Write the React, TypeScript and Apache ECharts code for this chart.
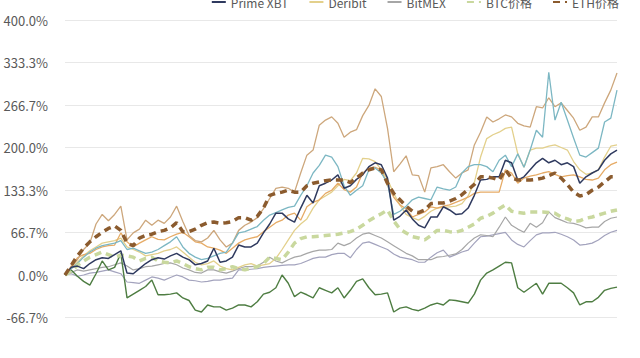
import React, { useEffect, useRef } from "react";
import * as echarts from "echarts";

// Y-axis: -133.3% .. 400.0% in steps of 66.7%
const yMin = -400 / 3;
const yMax = 400;
const yStep = 200 / 3;

const legendNames = ["Prime XBT", "Deribit", "BitMEX", "BTC价格", "ETH价格"];

const primeXBT = [0, 12, 14, 10, 18, 24, 27, 26, 32, 38, 3, 2, 10, 18, 24, 27, 25, 30, 34, 28, 24, 16, 18, 22, 42, 20, 22, 28, 47, 44, 44, 50, 66, 80, 97, 97, 88, 83, 105, 125, 113, 140, 144, 149, 157, 136, 140, 150, 157, 170, 176, 173, 152, 86, 92, 102, 88, 78, 74, 91, 91, 107, 102, 95, 96, 105, 125, 149, 150, 154, 154, 180, 176, 149, 154, 165, 176, 183, 176, 180, 173, 176, 170, 144, 154, 160, 165, 180, 190, 196];
const deribit = [0, 10, 20, 30, 38, 44, 50, 52, 54, 58, 44, 40, 36, 30, 32, 34, 38, 40, 44, 36, 28, 20, 16, 18, 22, 14, 10, 8, 12, 16, 18, 14, 16, 18, 26, 40, 55, 70, 80, 88, 105, 118, 124, 130, 140, 150, 148, 160, 183, 182, 178, 165, 150, 128, 110, 95, 90, 86, 92, 100, 105, 106, 107, 108, 112, 124, 145, 185, 214, 220, 224, 230, 232, 190, 169, 196, 199, 199, 202, 204, 200, 196, 178, 165, 158, 160, 165, 185, 202, 204];
const bitmex = [0, 4, 8, 6, 8, 10, 12, 13, 16, 19, 14, 8, 10, 13, 14, 16, 18, 19, 16, 11, 8, 4, 3, 8, 8, 5, 3, 6, 10, 13, 13, 14, 20, 28, 22, 19, 24, 28, 30, 34, 37, 39, 39, 40, 50, 46, 50, 58, 64, 66, 62, 58, 52, 46, 40, 34, 30, 24, 24, 24, 28, 29, 31, 33, 40, 50, 58, 63, 62, 60, 75, 91, 78, 72, 67, 81, 75, 82, 99, 90, 86, 82, 81, 78, 74, 75, 75, 84, 89, 91];
const btcPrice = [0, 6, 15, 22, 28, 32, 36, 32, 28, 31, 30, 28, 22, 26, 28, 22, 20, 19, 22, 18, 13, 10, 8, 12, 12, 8, 10, 13, 10, 8, 11, 13, 18, 28, 26, 24, 36, 50, 57, 60, 60, 61, 62, 63, 64, 66, 68, 72, 78, 85, 91, 96, 102, 85, 72, 66, 60, 58, 55, 62, 70, 70, 68, 67, 70, 75, 80, 89, 92, 97, 104, 110, 100, 98, 97, 99, 99, 99, 98, 97, 91, 88, 84, 85, 89, 91, 94, 97, 100, 102];
const ethPrice = [0, 15, 30, 42, 52, 60, 67, 73, 77, 70, 50, 46, 58, 62, 64, 68, 70, 74, 82, 68, 68, 72, 78, 82, 83, 81, 82, 84, 90, 90, 86, 92, 105, 125, 128, 130, 133, 130, 130, 140, 144, 146, 148, 149, 149, 149, 145, 152, 160, 165, 168, 165, 144, 128, 118, 108, 100, 98, 102, 112, 113, 113, 116, 120, 126, 134, 142, 154, 154, 152, 149, 165, 152, 149, 149, 149, 150, 152, 156, 160, 152, 142, 130, 124, 126, 133, 138, 146, 154, 154];
const tanLine = [0, 12, 24, 40, 50, 80, 95, 85, 95, 108, 55, 66, 72, 86, 78, 86, 81, 91, 108, 84, 62, 54, 52, 58, 70, 55, 44, 50, 70, 78, 83, 90, 104, 120, 136, 138, 136, 130, 160, 188, 196, 235, 243, 248, 238, 216, 224, 228, 250, 266, 292, 280, 230, 162, 174, 187, 157, 156, 130, 168, 170, 173, 162, 152, 160, 165, 204, 224, 248, 240, 245, 251, 248, 238, 234, 232, 264, 262, 278, 264, 270, 258, 246, 227, 232, 248, 248, 270, 290, 317];
const tealLine = [0, 10, 18, 28, 36, 42, 46, 48, 50, 54, 40, 42, 38, 34, 36, 40, 46, 52, 60, 44, 34, 28, 24, 26, 30, 34, 36, 50, 66, 68, 72, 76, 86, 94, 98, 102, 106, 108, 125, 140, 160, 172, 188, 185, 170, 140, 125, 133, 140, 165, 168, 160, 144, 95, 100, 108, 118, 122, 120, 118, 138, 135, 133, 138, 160, 170, 173, 173, 170, 162, 180, 188, 170, 190, 169, 196, 227, 216, 318, 243, 271, 243, 215, 188, 185, 192, 199, 240, 246, 290];
const orangeLine = [0, 14, 27, 32, 34, 40, 44, 46, 47, 66, 52, 44, 50, 55, 60, 56, 55, 60, 64, 67, 60, 52, 50, 44, 42, 39, 34, 42, 50, 55, 58, 60, 68, 75, 82, 86, 94, 97, 86, 107, 114, 118, 128, 133, 144, 134, 130, 138, 160, 168, 169, 165, 140, 122, 110, 104, 91, 95, 99, 107, 105, 108, 110, 114, 118, 122, 128, 130, 130, 130, 130, 165, 160, 144, 152, 155, 157, 160, 162, 158, 154, 156, 157, 154, 150, 149, 152, 165, 173, 177];
const darkGreenLine = [0, 8, -2, -10, -16, 2, 22, 8, 12, 34, -36, -30, -24, -18, -8, -31, -31, -30, -28, -36, -40, -55, -58, -47, -50, -50, -55, -52, -47, -47, -50, -42, -30, -27, -20, 0, -13, -34, -27, -31, -36, -20, -24, -28, -20, -36, -24, -10, -6, -20, -31, -30, -28, -58, -52, -50, -54, -56, -52, -47, -44, -47, -39, -40, -42, -44, -30, -8, 3, 8, 14, 20, 19, -20, -27, -20, -13, -30, -13, -13, -13, -20, -28, -47, -42, -42, -35, -24, -21, -19];
const purpleGrayLine = [0, 2, -2, 0, 3, 4, 6, 8, 5, 2, -11, -12, -13, -8, -3, -5, -8, -4, 0, -3, -8, -9, -11, -10, -8, -8, -6, -5, 8, 8, 9, 10, 12, 13, 14, 15, 16, 16, 18, 22, 26, 28, 28, 32, 34, 34, 27, 40, 50, 52, 48, 44, 40, 33, 28, 26, 24, 20, 20, 28, 35, 39, 28, 32, 36, 39, 50, 60, 61, 63, 65, 67, 55, 48, 44, 54, 63, 66, 66, 67, 64, 60, 55, 47, 48, 50, 55, 62, 67, 70];

const categories = primeXBT.map((_, i) => String(i + 1));

const FONT = "'Noto Sans CJK SC', 'Noto Sans', sans-serif";

function line(name: string, data: number[], color: string, width: number, z: number, dashed = false) {
  return {
    name,
    type: "line",
    data,
    symbol: "none",
    showSymbol: false,
    z,
    lineStyle: dashed ? { color, width, type: [7, 5] } : { color, width },
    itemStyle: { color },
  };
}

export default function App() {
  const ref = useRef<HTMLDivElement>(null);
  useEffect(() => {
    if (!ref.current) return;
    const chart = echarts.init(ref.current, undefined, { renderer: "svg" });
    chart.setOption({
      animation: false,
      backgroundColor: "#ffffff",
      textStyle: { fontFamily: FONT },
      legend: {
        data: legendNames,
        right: 16,
        top: -9,
        itemWidth: 14,
        itemHeight: 10,
        itemGap: 20,
        itemStyle: { opacity: 0 },
        textStyle: { color: "#595959", fontSize: 12, fontFamily: FONT },
      },
      grid: { left: 65, right: 23, top: 20, height: 340, containLabel: false },
      xAxis: {
        type: "category",
        data: categories,
        boundaryGap: false,
        axisLine: { show: false },
        axisTick: { show: false },
        axisLabel: { show: false },
        splitLine: { show: false },
      },
      yAxis: {
        type: "value",
        min: yMin,
        max: yMax,
        interval: yStep,
        axisLine: { show: false },
        axisTick: { show: false },
        axisLabel: {
          color: "#595959",
          fontSize: 13,
          margin: 17,
          showMinLabel: false,
          fontFamily: FONT,
          formatter: (v: number) => (Math.abs(v) < 1e-6 ? 0 : v).toFixed(1) + "%",
        },
        splitLine: { lineStyle: { color: "#e8e8e8", width: 1 } },
      },
      series: [
        line("s-gray2", purpleGrayLine, "#a3a3bd", 1.2, 2),
        line("BitMEX", bitmex, "#a6a6a6", 1.2, 2),
        line("s-green", darkGreenLine, "#4e7d42", 1.4, 3),
        line("Deribit", deribit, "#e3d08c", 1.3, 3),
        line("s-orange", orangeLine, "#e6ab66", 1.3, 3),
        line("s-tan", tanLine, "#cda77c", 1.3, 3),
        line("s-teal", tealLine, "#7cb7c3", 1.3, 4),
        line("BTC价格", btcPrice, "#c9d89e", 3.5, 5, true),
        line("Prime XBT", primeXBT, "#2f3a5f", 1.5, 6),
        line("ETH价格", ethPrice, "#8b5b2e", 3.5, 7, true),
      ],
    });
    return () => chart.dispose();
  }, []);
  return (
    <div style={{ position: "absolute", left: 0, top: 0, width: 640, height: 358, overflow: "hidden", background: "#fff" }}>
      <div ref={ref} style={{ width: 640, height: 380 }} />
    </div>
  );
}
